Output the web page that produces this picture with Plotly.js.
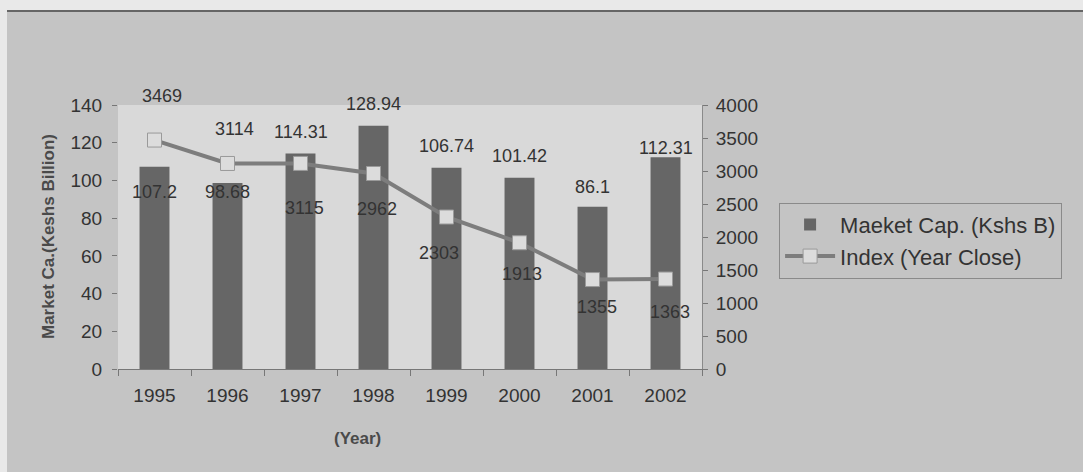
<!DOCTYPE html>
<html>
<head>
<meta charset="utf-8">
<script src="https://cdn.plot.ly/plotly-3.0.1.min.js"></script>
<style>
  html, body { margin: 0; padding: 0; background: #e9e9e9; width: 1083px; height: 472px; overflow: hidden; }
  #chart { position: absolute; left: 7px; top: 10px; width: 1076px; height: 462px; border-top: 2px solid #666; box-sizing: border-box; }
</style>
</head>
<body>
<div id="chart"></div>
<script>
// ---- data ----
const years = ['1995', '1996', '1997', '1998', '1999', '2000', '2001', '2002'];
const marketCap = [107.2, 98.68, 114.31, 128.94, 106.74, 101.42, 86.1, 112.31];
const indexClose = [3469, 3114, 3115, 2962, 2303, 1913, 1355, 1363];
const capTicks = [0, 20, 40, 60, 80, 100, 120, 140];
const indexTicks = [0, 500, 1000, 1500, 2000, 2500, 3000, 3500, 4000];

// label placement offsets (pixels, screen-down positive)
const capLabelShift = [25, 9, -21, -22, -22, -22, -20, -9];
const idxLabelShift = [-44, -34, 45, 35, 36, 31, 27, 33];
const idxLabelXShift = [7, 7, 4, 3, -8, 2, 4, 4];

const FONT = '"Liberation Sans", Arial, sans-serif';
const TXT = '#333333';

const traces = [
  {
    type: 'bar', name: 'Maeket Cap. (Kshs B)',
    x: years, y: marketCap, width: 0.41,
    marker: { color: '#666666', line: { width: 0 } },
    hoverinfo: 'skip'
  },
  {
    type: 'scatter', mode: 'lines+markers', name: 'Index (Year Close)',
    x: years, y: indexClose, yaxis: 'y2',
    line: { color: '#7d7d7d', width: 4 },
    marker: { symbol: 'square', size: 14, color: '#dcdcdc', line: { color: '#9a9a9a', width: 1 } },
    hoverinfo: 'skip'
  }
];

const annotations = [];
years.forEach((yr, i) => {
  // category axes take the category index as position
  annotations.push({
    x: i, y: marketCap[i], xref: 'x', yref: 'y',
    text: String(marketCap[i]), showarrow: false,
    yshift: -capLabelShift[i], xanchor: 'center', yanchor: 'middle',
    font: { family: FONT, size: 18, color: TXT }
  });
  annotations.push({
    x: i, y: indexClose[i], xref: 'x', yref: 'y2',
    text: String(indexClose[i]), showarrow: false,
    yshift: -idxLabelShift[i], xshift: idxLabelXShift[i], xanchor: 'center', yanchor: 'middle',
    font: { family: FONT, size: 18, color: TXT }
  });
});
annotations.push({
  x: 0, y: 0.5, xref: 'paper', yref: 'paper', xshift: -70,
  text: '<b>Market Ca.(Keshs Billion)</b>', textangle: -90, showarrow: false,
  xanchor: 'center', yanchor: 'middle',
  font: { family: FONT, size: 17, color: '#4a4a4a' }
});
annotations.push({
  x: 0.5, y: 0, xref: 'paper', yref: 'paper', xshift: -53, yshift: -69,
  text: '<b>(Year)</b>', showarrow: false,
  xanchor: 'center', yanchor: 'middle',
  font: { family: FONT, size: 17, color: '#4a4a4a' }
});

const layout = {
  width: 1076, height: 462,
  margin: { l: 111, r: 381, t: 93, b: 105 },
  paper_bgcolor: '#c4c4c4',
  plot_bgcolor: '#d9d9d9',
  font: { family: FONT, size: 18, color: TXT },
  showlegend: true,
  legend: {
    x: 1.132, y: 0.63, xanchor: 'left', yanchor: 'top',
    bgcolor: 'rgba(0,0,0,0)', bordercolor: '#8a8a8a', borderwidth: 1,
    font: { family: FONT, size: 22, color: TXT },
    itemwidth: 50, tracegroupgap: 0
  },
  xaxis: {
    type: 'category', range: [-0.5, years.length - 0.5], autorange: false,
    showgrid: false, zeroline: false,
    showline: true, linecolor: '#777', linewidth: 1,
    ticks: 'outside', tickson: 'boundaries', ticklen: 6, tickcolor: '#777',
    ticklabelstandoff: 9, tickangle: 0,
    tickfont: { family: FONT, size: 19, color: TXT }
  },
  yaxis: {
    range: [0, 140], autorange: false, tickvals: capTicks, showgrid: false, zeroline: false,
    showline: false,
    ticks: 'outside', ticklen: 5, tickcolor: '#777', ticklabelstandoff: 6,
    tickfont: { family: FONT, size: 19, color: TXT }
  },
  yaxis2: {
    range: [0, 4000], autorange: false, tickvals: indexTicks, overlaying: 'y', side: 'right',
    showgrid: false, zeroline: false,
    showline: true, linecolor: '#8a8a8a', linewidth: 1,
    ticks: 'outside', ticklen: 5, tickcolor: '#777', ticklabelstandoff: 4,
    tickfont: { family: FONT, size: 19, color: TXT }
  },
  annotations: annotations
};

Plotly.newPlot('chart', traces, layout, { displayModeBar: false, staticPlot: true });
</script>
</body>
</html>
